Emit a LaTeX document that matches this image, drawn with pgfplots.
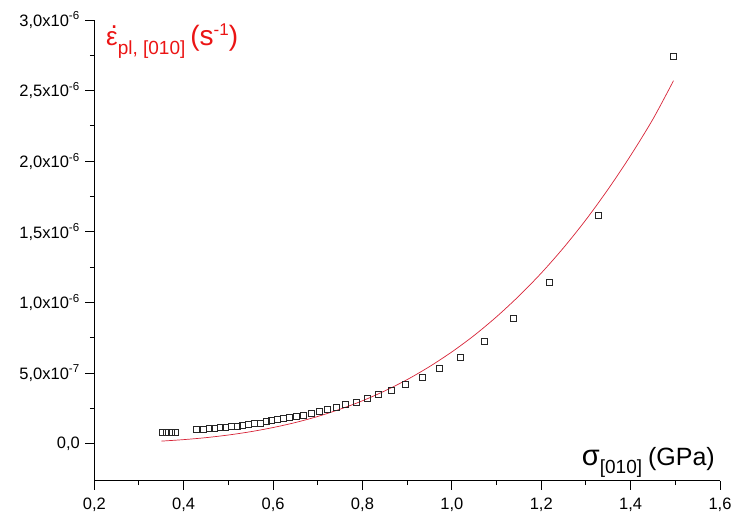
\documentclass[border=0pt]{standalone}
\usepackage{fontspec}
\setmainfont{Liberation Sans}
\usepackage{pgfplots}
\pgfplotsset{compat=1.18}
\definecolor{fitred}{RGB}{215,35,55}
\definecolor{labred}{RGB}{235,20,20}
\begin{document}
\fontsize{16bp}{18bp}\selectfont
\begin{tikzpicture}[x=1bp,y=1bp]
\begin{axis}[
  at={(94.3bp,38.3bp)}, anchor=south west,
  scale only axis, width=625.7bp, height=460.6bp,
  xmin=0.2, xmax=1.6, ymin=-0.262e-6, ymax=3.0e-6,
  scaled y ticks=false, scaled x ticks=false,
  axis x line*=bottom, axis y line*=left,
  axis line style={black, line width=1.1bp},
  every tick/.style={black, line width=1bp},
  tick align=outside,
  major tick length=9bp, minor tick length=4.5bp,
  minor x tick num=1, minor y tick num=1,
  xtick={0.2,0.4,0.6,0.8,1.0,1.2,1.4,1.6},
  xticklabels={{0,2},{0,4},{0,6},{0,8},{1,0},{1,2},{1,4},{1,6}},
  ytick={0,0.5e-6,1.0e-6,1.5e-6,2.0e-6,2.5e-6,3.0e-6},
  yticklabels={{0,0},{5,0x10\textsuperscript{-7}},{1,0x10\textsuperscript{-6}},{1,5x10\textsuperscript{-6}},{2,0x10\textsuperscript{-6}},{2,5x10\textsuperscript{-6}},{3,0x10\textsuperscript{-6}}},
  tick label style={font=\fontsize{16.5bp}{18bp}\selectfont},
  xticklabel style={yshift=-3bp},
  clip=false,
  every axis x label/.style={at={(rel axis cs:0.992,0.032)}, anchor=base east, inner sep=0pt},
  every axis y label/.style={at={(rel axis cs:0.0187,0.9457)}, anchor=base west, inner sep=0pt, text=labred},
  xlabel={{\fontsize{29bp}{29bp}\selectfont σ}\raisebox{-8bp}{\fontsize{19bp}{19bp}\selectfont [010]}\hspace{6bp}{\fontsize{25bp}{25bp}\selectfont (GPa)}},
  ylabel={{\fontsize{26bp}{26bp}\selectfont\makebox[0pt][l]{\hspace{0.17em}\raisebox{0.62em}{.}}ε}\raisebox{-9bp}{\fontsize{19bp}{19bp}\selectfont pl, [010]}\hspace{5bp}{\fontsize{28bp}{28bp}\selectfont (s\raisebox{10bp}{\fontsize{17bp}{17bp}\selectfont -1})}},
]
\addplot[fitred, line width=0.7bp, smooth, no marks] coordinates {
(0.35,0.0183e-6) (0.40,0.0289e-6) (0.45,0.043e-6) (0.50,0.0616e-6) (0.55,0.0851e-6)
(0.60,0.1145e-6) (0.65,0.150e-6) (0.70,0.193e-6) (0.75,0.2445e-6) (0.80,0.304e-6)
(0.85,0.374e-6) (0.90,0.454e-6) (0.95,0.546e-6) (1.00,0.650e-6) (1.05,0.767e-6)
(1.10,0.899e-6) (1.15,1.046e-6) (1.20,1.208e-6) (1.25,1.388e-6) (1.30,1.586e-6)
(1.35,1.804e-6) (1.40,2.041e-6) (1.45,2.299e-6) (1.496,2.571e-6)
};
\addplot[only marks, mark=square, mark size=3bp, mark options={black!85, line width=0.7bp, fill=none}] coordinates {
(0.353,0.078e-6) (0.362,0.078e-6) (0.372,0.078e-6) (0.381,0.080e-6)
(0.428,0.100e-6) (0.444,0.103e-6) (0.457,0.106e-6) (0.469,0.109e-6) (0.482,0.113e-6)
(0.494,0.117e-6) (0.506,0.121e-6) (0.519,0.125e-6) (0.531,0.130e-6) (0.545,0.136e-6)
(0.558,0.141e-6) (0.571,0.147e-6) (0.584,0.155e-6) (0.597,0.162e-6) (0.610,0.170e-6)
(0.623,0.178e-6) (0.637,0.186e-6) (0.652,0.195e-6) (0.667,0.204e-6) (0.685,0.215e-6)
(0.703,0.228e-6) (0.722,0.242e-6) (0.741,0.258e-6) (0.762,0.276e-6) (0.786,0.295e-6)
(0.810,0.319e-6) (0.836,0.350e-6) (0.865,0.380e-6) (0.897,0.421e-6) (0.933,0.468e-6)
(0.973,0.531e-6) (1.019,0.612e-6) (1.073,0.725e-6) (1.138,0.890e-6) (1.218,1.145e-6)
(1.328,1.618e-6) (1.496,2.746e-6)
};
\end{axis}
\pgfresetboundingbox
\path[use as bounding box] (0,0) rectangle (735bp,519bp);
\end{tikzpicture}
\end{document}
